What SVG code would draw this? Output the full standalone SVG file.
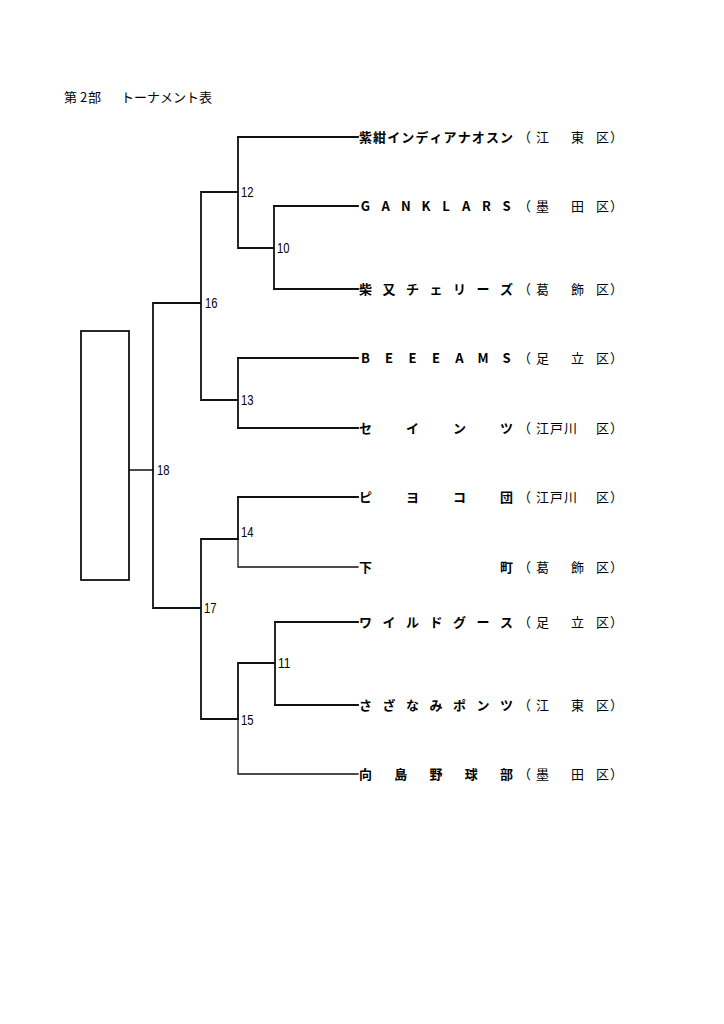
<svg xmlns="http://www.w3.org/2000/svg" width="724" height="1024" viewBox="0 0 724 1024">
<style>
.bg{fill:#fff}
.ln{fill:none;stroke:#111;stroke-width:1.8;stroke-linecap:square}
.thin{fill:none;stroke:#111;stroke-width:1.3;stroke-linecap:square}
.nm{font-family:"Noto Sans CJK JP","Noto Sans CJK SC",sans-serif;font-size:13px;font-weight:700;fill:#000;text-anchor:middle}
.ds{font-family:"Noto Sans CJK JP","Noto Sans CJK SC",sans-serif;font-size:13px;font-weight:400;fill:#000}
.tt{font-family:"Noto Sans CJK JP","Noto Sans CJK SC",sans-serif;font-size:13px;font-weight:400;fill:#000}
.mn{font-family:"Liberation Sans",Arial,sans-serif;font-size:15px;fill:#000}
</style>
<rect class="bg" x="0" y="0" width="724" height="1024"/>
<g id="title"><text class="tt" x="64 80 88" y="102">第2部<tspan x="121">トーナメント表</tspan></text></g>
<g id="connectors">
<path class="ln" d="M238 137H358M274 206H358M274 289H358M238 358H358M238 428H358M238 497H358M275 622H358M275 705H358"/>
<path class="ln" d="M274 206V289M238 137V248H274M238 358V428M238 497V539M275 622V705M238 663H275M238 663V719"/>
<path class="ln" d="M201 192H238M201 400H238M201 539H238M201 719H238M201 192V400M201 539V719M153 303H201M153 608H201M153 303V608"/>
<path class="thin" d="M238 567H358M238 539V567M238 774H358M238 719V774M129 470H153"/>
</g>
<g id="champion"><rect class="ln" x="81" y="331" width="48" height="249"/></g>
<g id="m12"><text class="mn" x="241" y="197" textLength="12.5" lengthAdjust="spacingAndGlyphs">12</text></g>
<g id="m10"><text class="mn" x="277" y="253" textLength="12.5" lengthAdjust="spacingAndGlyphs">10</text></g>
<g id="m16"><text class="mn" x="205" y="308" textLength="12.5" lengthAdjust="spacingAndGlyphs">16</text></g>
<g id="m13"><text class="mn" x="241" y="405" textLength="12.5" lengthAdjust="spacingAndGlyphs">13</text></g>
<g id="m18"><text class="mn" x="157" y="475" textLength="12.5" lengthAdjust="spacingAndGlyphs">18</text></g>
<g id="m14"><text class="mn" x="241" y="537" textLength="12.5" lengthAdjust="spacingAndGlyphs">14</text></g>
<g id="m17"><text class="mn" x="204" y="613" textLength="12.5" lengthAdjust="spacingAndGlyphs">17</text></g>
<g id="m11"><text class="mn" x="278" y="668" textLength="12.5" lengthAdjust="spacingAndGlyphs">11</text></g>
<g id="m15"><text class="mn" x="241" y="725" textLength="12.5" lengthAdjust="spacingAndGlyphs">15</text></g>
<g id="team1">
<text class="nm" x="365.5 379.6 393.7 407.8 421.9 436 450.1 464.2 478.3 492.4 506.5" y="142">紫紺インディアナオスン</text>
<text class="ds" x="518 536 571 596 610" y="142">（江東区）</text>
</g>
<g id="team2">
<text class="nm" x="365.5 385.6 405.8 425.9 446.1 466.2 486.4 506.5" y="211">GANKLARS</text>
<text class="ds" x="518 536 571 596 610" y="211">（墨田区）</text>
</g>
<g id="team3">
<text class="nm" x="365.5 389 412.5 436 459.5 483 506.5" y="294">柴又チェリーズ</text>
<text class="ds" x="518 536 571 596 610" y="294">（葛飾区）</text>
</g>
<g id="team4">
<text class="nm" x="365.5 389 412.5 436 459.5 483 506.5" y="363">BEEEAMS</text>
<text class="ds" x="518 536 571 596 610" y="363">（足立区）</text>
</g>
<g id="team5">
<text class="nm" x="365.5 412.5 459.5 506.5" y="433">セインツ</text>
<text class="ds" x="518 536 550 564 596 610" y="433">（江戸川区）</text>
</g>
<g id="team6">
<text class="nm" x="365.5 412.5 459.5 506.5" y="502">ピヨコ団</text>
<text class="ds" x="518 536 550 564 596 610" y="502">（江戸川区）</text>
</g>
<g id="team7">
<text class="nm" x="365.5 506.5" y="572">下町</text>
<text class="ds" x="518 536 571 596 610" y="572">（葛飾区）</text>
</g>
<g id="team8">
<text class="nm" x="365.5 389 412.5 436 459.5 483 506.5" y="627">ワイルドグース</text>
<text class="ds" x="518 536 571 596 610" y="627">（足立区）</text>
</g>
<g id="team9">
<text class="nm" x="365.5 389 412.5 436 459.5 483 506.5" y="710">さざなみポンツ</text>
<text class="ds" x="518 536 571 596 610" y="710">（江東区）</text>
</g>
<g id="team10">
<text class="nm" x="365.5 400.75 436 471.25 506.5" y="779">向島野球部</text>
<text class="ds" x="518 536 571 596 610" y="779">（墨田区）</text>
</g>
</svg>
